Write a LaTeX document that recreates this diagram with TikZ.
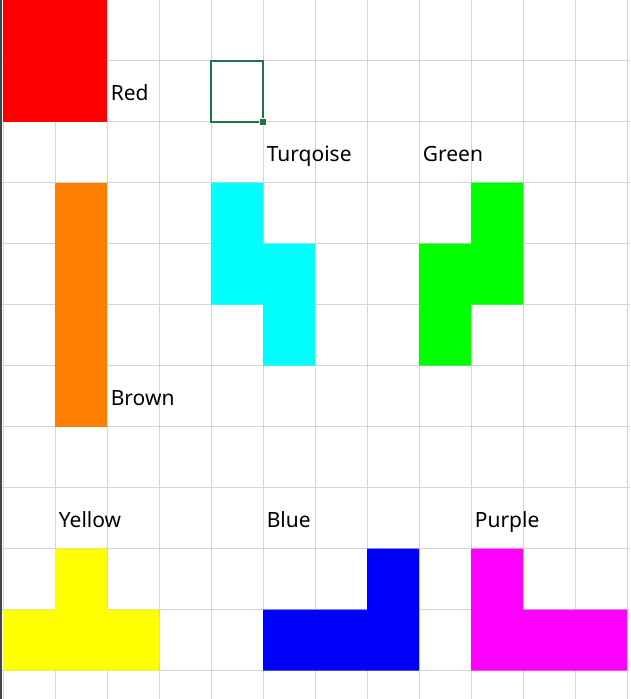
\documentclass[tikz,border=0pt]{standalone}
\usepackage{fontspec}
\setmainfont{Noto Sans}
\usepackage{xcolor}
\usepackage{tikz}
\usetikzlibrary{calc,positioning}
\definecolor{gridGray}{RGB}{212,212,212}
\definecolor{edgeGray}{RGB}{70,70,70}
\definecolor{selGreen}{RGB}{33,115,70}
\definecolor{pcRed}{RGB}{255,0,0}
\definecolor{pcOrange}{RGB}{255,128,0}
\definecolor{pcCyan}{RGB}{0,255,255}
\definecolor{pcGreen}{RGB}{0,255,0}
\definecolor{pcYellow}{RGB}{255,255,0}
\definecolor{pcBlue}{RGB}{0,0,255}
\definecolor{pcMagenta}{RGB}{255,0,255}
\tikzset{
  cellname/.style={anchor=base west, inner sep=0pt, text=black, font=\fontsize{21}{25}\selectfont},
}
\begin{document}
\begin{tikzpicture}[x=52pt,y=-61pt]
\useasboundingbox (-0.0577,0.0082) rectangle (12.0577,11.467);
% sheet grid
\foreach \c in {0,...,12}{
  \draw[gridGray, line width=1pt] (\c,0.0082)--(\c,11.467);
}
\foreach \r in {1,...,11}{
  \draw[gridGray, line width=1pt] (-0.0577,\r)--(12.0577,\r);
}
\draw[edgeGray, line width=2pt] (-0.038,0.0082)--(-0.038,11.467);

% pieces
\fill[pcRed] (0,0.0082) rectangle (2,2);
\fill[pcOrange] (1,3) rectangle (2,7);
\fill[pcCyan] (4,3)--(5,3)--(5,4)--(6,4)--(6,6)--(5,6)--(5,5)--(4,5)--cycle;
\fill[pcGreen] (9,3)--(10,3)--(10,5)--(9,5)--(9,6)--(8,6)--(8,4)--(9,4)--cycle;
\fill[pcYellow] (1,9)--(2,9)--(2,10)--(3,10)--(3,11)--(0,11)--(0,10)--(1,10)--cycle;
\fill[pcBlue] (7,9)--(8,9)--(8,11)--(5,11)--(5,10)--(7,10)--cycle;
\fill[pcMagenta] (9,9)--(10,9)--(10,10)--(12,10)--(12,11)--(9,11)--cycle;

% selected cell
\draw[selGreen, line width=2pt] (4,1) rectangle (5,2);
\fill[white] ($(5,2)+(-4pt,-4pt)$) rectangle ($(5,2)+(4pt,4pt)$);
\fill[selGreen] ($(5,2)+(-3pt,-3pt)$) rectangle ($(5,2)+(3pt,3pt)$);

% labels
\node[cellname] (lblRed) at (2.07,1.66) {Red};
\node[cellname] (lblTurq) at (5.07,2.66) {Turqoise};
\node[cellname] (lblGreen) at (8.07,2.66) {Green};
\node[cellname] (lblBrown) at (2.07,6.66) {Brown};
\node[cellname] (lblYellow) at (1.07,8.66) {Yellow};
\node[cellname] (lblBlue) at (5.07,8.66) {Blue};
\node[cellname] (lblPurple) at (9.07,8.66) {Purple};
\end{tikzpicture}
\end{document}
